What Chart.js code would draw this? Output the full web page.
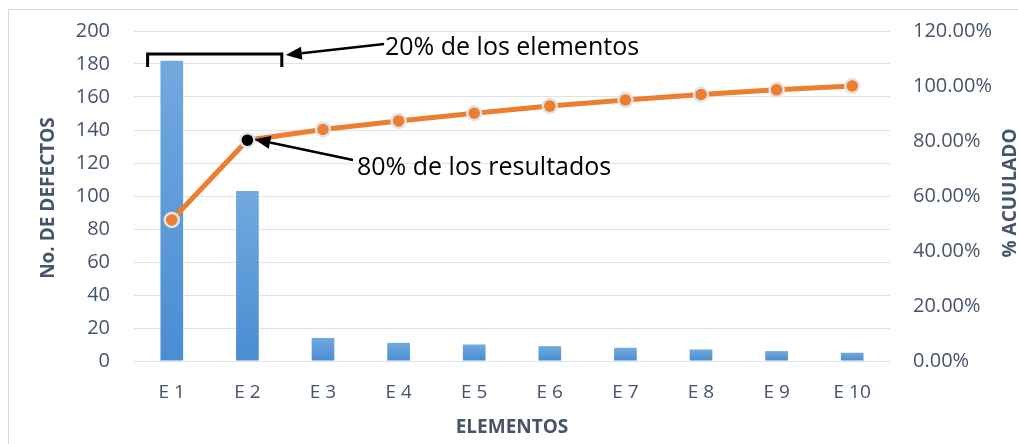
<!DOCTYPE html>
<html>
<head>
<meta charset="utf-8">
<script src="https://cdn.jsdelivr.net/npm/chart.js@4.4.1/dist/chart.umd.min.js"></script>
<style>
  html, body { margin: 0; padding: 0; background: #ffffff; }
  #c { display: block; }
</style>
</head>
<body>
<canvas id="c" width="1018" height="444"></canvas>
<script>
// Pareto data: defects per element and cumulative share
const categories = ['E 1', 'E 2', 'E 3', 'E 4', 'E 5', 'E 6', 'E 7', 'E 8', 'E 9', 'E 10'];
const defects = [182, 103, 14, 11, 10, 9, 8, 7, 6, 5];
const cumulativePct = [51.3, 80.3, 84.2, 87.3, 90.1, 92.7, 94.9, 96.9, 98.6, 100];
const countTicks = [0, 20, 40, 60, 80, 100, 120, 140, 160, 180, 200];
const pctTicks = [0, 20, 40, 60, 80, 100, 120];
const noteTexts = ['20% de los elementos', '80% de los resultados'];
const axisTitles = ['No. DE DEFECTOS', '% ACUULADO', 'ELEMENTOS'];

const FONT = "'Open Sans', 'Noto Sans', sans-serif";
const TEXT = '#46546a';

function arrow(ctx, x1, y1, x2, y2) {
  // line from (x1,y1) ending in a filled head at (x2,y2)
  const ang = Math.atan2(y2 - y1, x2 - x1);
  const len = 16, half = 6.5;
  const bx = x2 - len * Math.cos(ang), by = y2 - len * Math.sin(ang);
  ctx.beginPath();
  ctx.moveTo(x1, y1);
  ctx.lineTo(bx, by);
  ctx.stroke();
  ctx.beginPath();
  ctx.moveTo(x2, y2);
  ctx.lineTo(bx + half * Math.sin(ang), by - half * Math.cos(ang));
  ctx.lineTo(bx - half * Math.sin(ang), by + half * Math.cos(ang));
  ctx.closePath();
  ctx.fill();
}

const frame = {
  id: 'frame',
  beforeDraw(chart) {
    const ctx = chart.ctx;
    ctx.save();
    ctx.fillStyle = '#ffffff';
    ctx.fillRect(0, 0, chart.width, chart.height);
    ctx.strokeStyle = '#d9d9d9';
    ctx.lineWidth = 1;
    ctx.strokeRect(8.5, 9.5, chart.width + 50, chart.height + 50);
    ctx.restore();
  }
};

const notes = {
  id: 'notes',
  afterDraw(chart) {
    const ctx = chart.ctx;
    const xs = chart.scales.x, ys = chart.scales.y, yp = chart.scales.y1;
    const area = chart.chartArea;
    const step = xs.getPixelForValue(1) - xs.getPixelForValue(0);
    ctx.save();

    // axis titles
    ctx.fillStyle = TEXT;
    ctx.font = "bold 19px " + FONT;
    ctx.textAlign = 'center';
    ctx.textBaseline = 'middle';
    const midY = (area.top + area.bottom) / 2;
    ctx.save();
    ctx.translate(49, midY + 2);
    ctx.rotate(-Math.PI / 2);
    ctx.fillText(axisTitles[0], 0, 0);
    ctx.restore();
    ctx.save();
    ctx.translate(1011, midY - 3);
    ctx.rotate(-Math.PI / 2);
    ctx.fillText(axisTitles[1], 0, 0);
    ctx.restore();
    ctx.fillText(axisTitles[2], (area.left + area.right) / 2, 428);

    // bracket over the first two elements
    ctx.strokeStyle = '#000000';
    ctx.fillStyle = '#000000';
    ctx.lineWidth = 3;
    ctx.lineJoin = 'miter';
    const bl = xs.getPixelForValue(0) - 0.32 * step;
    const br = xs.getPixelForValue(1) + 0.455 * step;
    const bt = ys.getPixelForValue(186);
    ctx.beginPath();
    ctx.moveTo(bl, bt + 13);
    ctx.lineTo(bl, bt);
    ctx.lineTo(br, bt);
    ctx.lineTo(br, bt + 13);
    ctx.stroke();

    // arrows and notes
    ctx.lineWidth = 2.5;
    arrow(ctx, 384, 44, br + 4, bt + 1);
    const px = xs.getPixelForValue(1), py = yp.getPixelForValue(cumulativePct[1]);
    arrow(ctx, 353, 160, px + 7, py - 1);

    ctx.fillStyle = '#000000';
    ctx.font = "25px " + FONT;
    ctx.textAlign = 'left';
    ctx.textBaseline = 'alphabetic';
    ctx.fillText(noteTexts[0], 385, 55);
    ctx.fillText(noteTexts[1], 357, 175);
    ctx.restore();
  }
};

function fitVertical(width) {
  return (s) => {
    s.width = width;
    s.paddingTop = 0;
    s.paddingBottom = 0;
  };
}

new Chart(document.getElementById('c'), {
  data: {
    labels: categories,
    datasets: [
      {
        type: 'line',
        data: cumulativePct,
        yAxisID: 'y1',
        order: 0,
        borderColor: '#ed7d31',
        borderWidth: 5,
        tension: 0,
        pointRadius: 7,
        pointHoverRadius: 7,
        pointBorderWidth: 2.5,
        pointBorderColor: '#e4e4e4',
        pointBackgroundColor: (c) => (c.dataIndex === 1 ? '#000000' : '#ed7d31')
      },
      {
        type: 'bar',
        data: defects,
        yAxisID: 'y',
        order: 1,
        barPercentage: 0.3,
        categoryPercentage: 1,
        backgroundColor: (c) => {
          const chart = c.chart;
          if (!chart.chartArea || c.type !== 'data' || !chart.scales.y) return '#5b9bd5';
          const ys = chart.scales.y;
          const top = ys.getPixelForValue(c.raw);
          const base = ys.getPixelForValue(0);
          const g = chart.ctx.createLinearGradient(0, top, 0, base);
          g.addColorStop(0, '#72a9de');
          g.addColorStop(1, '#4a8dd3');
          return g;
        }
      }
    ]
  },
  options: {
    responsive: false,
    devicePixelRatio: 1,
    animation: false,
    layout: { padding: { top: 31, left: 0, right: 0, bottom: 0 } },
    plugins: { legend: { display: false }, tooltip: { enabled: false } },
    scales: {
      x: {
        offset: true,
        grid: { display: false, drawTicks: false },
        border: { display: false },
        ticks: { color: TEXT, font: { family: FONT, size: 19 }, padding: 20 },
        afterFit: (s) => { s.height = 83; s.paddingLeft = 0; s.paddingRight = 0; }
      },
      y: {
        position: 'left',
        min: 0, max: 200,
        afterBuildTicks: (s) => { s.ticks = countTicks.map(v => ({ value: v })); },
        grid: { color: '#dfe3e8', lineWidth: 1, drawTicks: false },
        border: { display: false },
        ticks: { color: TEXT, font: { family: FONT, size: 20 }, padding: 24 },
        afterFit: fitVertical(134)
      },
      y1: {
        position: 'right',
        min: 0, max: 120,
        afterBuildTicks: (s) => { s.ticks = pctTicks.map(v => ({ value: v })); },
        grid: { display: false, drawTicks: false },
        border: { display: false },
        ticks: {
          color: TEXT, font: { family: FONT, size: 20 }, padding: 23,
          callback: (v) => Number(v).toFixed(2) + '%'
        },
        afterFit: fitVertical(128)
      }
    }
  },
  plugins: [frame, notes]
});
</script>
</body>
</html>
